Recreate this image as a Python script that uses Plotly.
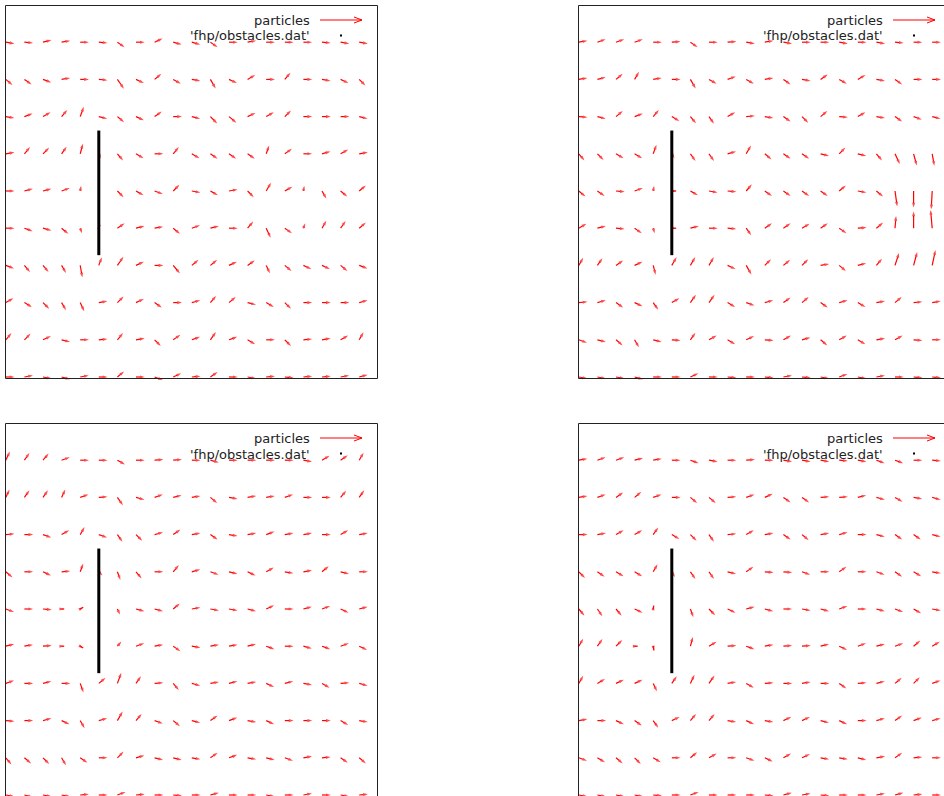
import numpy as np
import plotly.graph_objects as go

# ---------------------------------------------------------------------------
# Averaged FHP lattice-gas velocity field around a plate obstacle, 4 snapshots
# ---------------------------------------------------------------------------
col_x = [0, 1, 2, 3, 4, 5, 6, 7, 8, 9, 10, 11, 12, 13, 14, 15, 16, 17, 18, 19]
row_y = [18, 16, 14, 12, 10, 8, 6, 4, 2, 0]          # top row first

# obstacle (plate) endpoints
wall_x = [5, 5]
wall_y = [6.55, 13.25]

# flow direction per cell (degrees, counter-clockwise from +x), rows top->bottom
angle_1 = [
    [-10, -5, 15, 10, 0, -5, -35, 0, 25, -15, -15, -35, 0, 10, 0, 0, 0, -5, -10, -10],
    [-40, -35, -20, 10, 0, -5, -55, -25, 40, -30, -10, -60, -25, 30, 0, 50, 0, -10, -25, -45],
    [-10, 20, 30, 50, 70, -15, -40, -25, 35, 0, -15, -45, -40, 25, 30, 45, 0, 0, 0, -15],
    [10, 50, 45, 55, 75, -65, -50, -30, 0, 50, -30, -35, -35, -35, 70, 35, 0, 15, 30, 10],
    [0, 15, 15, 20, 80, 0, -45, -30, -20, 45, -10, -30, 10, -45, 60, 30, 80, -60, -40, 40],
    [0, -20, -15, -40, -70, 70, 35, 15, 10, -40, 20, 15, 0, 50, -65, -35, 70, 60, 55, 40],
    [-20, -50, -50, -60, -80, 70, 55, 25, 0, -50, 40, 40, 25, 35, -65, -40, -25, -25, -40, -20],
    [30, -30, -45, -60, -65, 10, 45, 25, -35, 0, 15, 50, 40, -15, -30, -45, 0, 0, 0, 15],
    [50, 45, 25, -15, 0, 5, 50, 10, -45, 35, 20, 55, 20, -30, 0, -45, 5, 10, 30, 60],
    [0, 10, -10, -15, 10, 0, 40, 0, -20, 25, 5, 35, 0, -10, 5, -5, 5, 5, 10, 15],
]
speed_1 = [
    [1, 1, 1, 1, 1, 1, 1, 1, 1, 1, 1, 1, 1, 1, 1, 1, 1, 1, 1, 1],
    [1, 1, 1, 1, 1, 1, 1.3, 1, 1, 1, 1, 1.2, 1, 1, 1, 1, 1, 1, 1, 1],
    [1, 1, 1, 1, 1.2, 1, 1, 1, 1, 1, 1, 1.1, 1.1, 1, 1, 1, 1, 1, 1, 1],
    [1, 1, 1, 1, 1.2, 0.6, 1, 1, 1, 1, 1, 1, 1, 1, 1, 1, 1, 1, 1, 1],
    [1, 1, 1, 1, 0.6, 0, 1, 1, 1, 1, 1, 1, 1, 1, 1.1, 1, 0.6, 1, 1, 1],
    [1, 1, 1, 1, 0.6, 0.4, 1, 1, 1, 1, 1, 1, 1, 1, 1.2, 1, 0.6, 1, 1, 1],
    [1, 1, 1, 1, 1.4, 1, 1.2, 1, 1, 1.2, 1, 1, 1, 1, 1, 1, 1, 1, 1, 1],
    [1, 1, 1, 1, 1.1, 1, 1, 1, 1, 1, 1, 1, 1, 1, 1, 1, 1, 1, 1, 1],
    [1, 1, 1, 1, 1, 1, 1, 1, 1, 1, 1, 1.1, 1, 1, 1, 1, 1, 1, 1, 1],
    [1, 1, 1, 1, 1, 1, 1, 1, 1, 1, 1, 1, 1, 1, 1, 1, 1, 1, 1, 1],
]

angle_2 = [
    [10, 20, 20, 20, 0, 5, -35, 0, 5, -10, 10, -10, 0, 0, -10, 0, -10, -5, 0, 0],
    [10, 15, 40, 60, 10, 0, -60, -30, 20, -30, 10, -35, -10, 35, -30, 30, -10, -35, 0, 0],
    [-5, -15, 40, 20, 50, -30, -50, -55, 30, 5, -10, -35, -45, 40, -5, 30, -10, -35, -20, -15],
    [-50, -45, -30, -30, 70, -60, -55, -55, 15, 60, -40, -35, -35, -15, 45, -15, -50, -65, -75, -80],
    [-40, -35, -5, 20, 80, 0, -30, -10, -5, 50, -35, -35, -35, -35, 40, -10, -40, -82, -90, -93],
    [30, 15, -5, -35, -75, 0, 15, 0, -5, -55, 35, 35, 30, 35, -35, 5, 40, 85, 90, 95],
    [60, 55, 35, 25, -75, 60, 60, 60, -25, -60, 45, 40, 45, 10, -40, 15, 50, 72, 75, 78],
    [5, 15, -35, -25, -55, 30, 55, 55, -30, -20, 15, 35, 40, -35, 15, -30, 10, 40, 5, 10],
    [-20, -15, -40, -60, -15, -5, 55, 30, -30, 25, -5, 30, 15, -40, 30, -30, 10, 30, -5, 0],
    [-10, -10, -10, -15, 0, 0, 25, 0, -5, 0, -5, 10, -5, -10, 20, -10, 10, 0, -5, -5],
]
speed_2 = [
    [1, 1, 1, 1, 1, 1, 1, 1, 1, 1, 1, 1, 1, 1, 1, 1, 1, 1, 1, 1],
    [1, 1, 1, 1, 1, 1, 1.2, 1, 1, 1, 1, 1, 1, 1, 1, 1, 1, 1, 1, 1],
    [1, 1, 1, 1, 1, 1, 1, 1, 1, 1, 1, 1, 1, 1, 1, 1, 1, 1, 1, 1],
    [1, 1, 1, 1, 1.1, 0.6, 1, 1, 1, 1.1, 1, 1, 1, 1, 1, 1, 1, 1.3, 1.4, 1.4],
    [1, 1, 1, 1, 0.6, 0.5, 1, 1, 1, 1, 1, 1, 1, 1, 1, 1, 1, 1.8, 1.9, 2.1],
    [1, 1, 1, 1, 0.6, 0.5, 1, 1, 1, 1, 1, 1, 1, 1, 1, 1, 1, 1.4, 1.9, 2.1],
    [1, 1, 1, 1, 1.1, 1.1, 1.1, 1.1, 1, 1.2, 1, 1, 1, 1, 1, 1, 1, 1.5, 1.6, 1.8],
    [1, 1, 1, 1, 1, 1, 1.1, 1.1, 1, 1, 1, 1, 1, 1, 1, 1, 1, 1, 1, 1],
    [1, 1, 1, 1, 1, 1, 1, 1, 1, 1, 1, 1, 1, 1, 1, 1, 1, 1, 1, 1],
    [1, 1, 1, 1, 1, 1, 1, 1, 1, 1, 1, 1, 1, 1, 1, 1, 1, 1, 1, 1],
]

angle_3 = [
    [65, 55, 50, 20, 0, 0, -30, 0, 5, 5, 0, -15, 0, 0, 0, 0, -10, 30, 35, 60],
    [65, 55, 55, 65, 20, 5, -55, -15, 20, 15, 10, -40, -10, 10, 10, 20, 0, 0, 50, 55],
    [5, 0, -20, 30, 60, -20, -55, -45, 15, 35, 10, -35, -10, 10, 20, 10, 10, 0, 30, 10],
    [-40, 0, -25, 5, 70, -45, -70, -50, 0, 50, 15, -20, -15, -25, 30, -10, 10, 40, -15, 0],
    [-20, 0, -5, 0, 30, 0, -65, -15, -15, 40, 10, -10, -10, -15, 25, 0, 15, 20, -25, 15],
    [15, 10, 5, 0, -30, 0, 50, 20, 10, -35, -10, 10, 10, 15, -20, 0, -15, -20, 20, -25],
    [20, 0, 15, 0, -70, 40, 70, 55, 5, -50, -15, 10, 15, 10, -25, 15, -10, -30, 5, -15],
    [-5, 0, 15, -25, -60, 15, 60, 50, -20, -40, -15, 35, 20, -10, -25, 0, 0, 0, -30, -10],
    [-50, -40, -45, -60, -35, 0, 45, 15, -15, -15, -10, 35, 20, -10, -15, -20, 10, 5, -35, -40],
    [-10, -15, -10, -10, 5, 0, 20, 5, 0, -5, 0, 15, 0, 0, -10, 0, 10, 0, -10, 5],
]
speed_3 = [
    [1.1, 1, 1, 1, 1, 1, 1, 1, 1, 1, 1, 1, 1, 1, 1, 1, 1, 1, 1, 1],
    [1, 1, 1, 1, 1, 1, 1.1, 1, 1, 1, 1, 1, 1, 1, 1, 1, 1, 1, 1, 1],
    [1, 1, 1, 1, 1, 1, 1, 1, 1, 1, 1, 1, 1, 1, 1, 1, 1, 1, 1, 1],
    [1, 1, 1, 1, 1, 0.6, 1, 1, 1, 1, 1, 1, 1, 1, 1, 1, 1, 1, 1, 1],
    [1, 1, 1, 0.3, 0.4, 0, 0.7, 1, 1, 1, 1, 1, 1, 1, 1, 1, 1, 1, 1, 1],
    [1, 1, 1, 0.3, 0.4, 0, 0.7, 1, 1, 1, 1, 1, 1, 1, 1, 1, 1, 1, 1, 1],
    [1, 1, 1, 1, 1.1, 1, 1.3, 1, 1, 1, 1, 1, 1, 1, 1, 1, 1, 1, 1, 1],
    [1, 1, 1, 1, 1, 1, 1.2, 1, 1, 1, 1, 1, 1, 1, 1, 1, 1, 1, 1, 1],
    [1, 1, 1, 1, 1, 1, 1, 1, 1, 1, 1, 1, 1, 1, 1, 1, 1, 1, 1, 1],
    [1, 1, 1, 1, 1, 1, 1, 1, 1, 1, 1, 1, 1, 1, 1, 1, 1, 1, 1, 1],
]

angle_4 = [
    [10, 20, 20, 15, 10, 0, -20, -10, 0, 5, 0, -10, -10, -10, -5, -10, -20, -20, 0, -5],
    [10, 20, 35, 40, 20, 0, -40, -40, 5, 20, 25, -35, -35, 5, 5, 15, -15, -30, -10, -15],
    [0, 10, 30, 30, 55, -30, -45, -55, 5, 30, 10, -35, -40, 10, 15, 0, -15, -35, -35, -15],
    [-45, -35, -30, -30, 60, -60, -55, -55, -15, 35, -5, -5, -20, 0, 35, 0, -20, -35, -30, -10],
    [-50, -55, -50, -25, 80, 0, -70, -45, -25, 15, -15, 0, -10, -15, 20, 0, -15, -20, -30, -10],
    [60, 55, 45, 0, -80, 0, 75, 30, 5, -20, 10, 5, 5, 15, -25, 20, 15, 20, 40, 30],
    [60, 30, 25, 25, -65, 55, 65, 55, 10, -30, 5, 0, 10, 0, -35, 5, 15, 40, 45, 20],
    [10, 0, -25, -35, -55, 25, 50, 50, -10, -25, -10, 25, 25, -15, -25, 0, 15, 35, 20, 15],
    [-20, -30, -40, -45, -30, 0, 40, 30, 0, -20, -25, 30, 25, -10, -10, -15, 10, 35, 5, 0],
    [-10, -10, -10, -10, -5, 0, 20, 0, 0, 0, -5, 15, 10, -5, 0, 0, 10, 15, 5, 0],
]
speed_4 = [
    [1, 1, 1, 1, 1, 1, 1, 1, 1, 1, 1, 1, 1, 1, 1, 1, 1, 1, 1, 1],
    [1, 1, 1, 1, 1, 1, 1, 1, 1, 1, 1, 1, 1, 1, 1, 1, 1, 1, 1, 1],
    [1, 1, 1, 1, 1, 1, 1, 1, 1, 1, 1, 1, 1, 1, 1, 1, 1, 1, 1, 1],
    [1, 1, 1, 1, 1, 0.7, 1, 1, 1, 1, 1, 1, 1, 1, 1, 1, 1, 1, 1, 1],
    [1, 1, 1, 1, 0.4, 0, 1, 1, 1, 1, 1, 1, 1, 1, 1, 1, 1, 1, 1, 1],
    [1, 1, 1, 0.35, 0.5, 0, 1.1, 1, 1, 1, 1, 1, 1, 1, 1, 1, 1, 1, 1, 1],
    [1, 1, 1, 1, 1, 1, 1.1, 1.1, 1, 1, 1, 1, 1, 1, 1, 1, 1, 1, 1, 1],
    [1, 1, 1, 1, 1, 1, 1, 1, 1, 1, 1, 1, 1, 1, 1, 1, 1, 1, 1, 1],
    [1, 1, 1, 1, 1, 1, 1, 1, 1, 1, 1, 1, 1, 1, 1, 1, 1, 1, 1, 1],
    [1, 1, 1, 1, 1, 1, 1, 1, 1, 1, 1, 1, 1, 1, 1, 1, 1, 1, 1, 1],
]

legend_labels = ["particles", "'fhp/obstacles.dat'"]

# ---------------------------------------------------------------------------
# page geometry (pixels)
# ---------------------------------------------------------------------------
W, H = 944, 796
S = 18.6              # pixels per lattice unit
ARROW_LEN = 0.47      # lattice units per unit speed
FRAME_W, FRAME_H = 372, 373
FONT = "DejaVu Sans"
RED = "#ff0000"
INK = "#222222"

# (left, top) of each plot frame
panels = [
    dict(L=5, T=5, fields=(angle_1, speed_1)),
    dict(L=578, T=5, fields=(angle_2, speed_2)),
    dict(L=5, T=423, fields=(angle_3, speed_3)),
    dict(L=578, T=423, fields=(angle_4, speed_4)),
]


def px_x(x):
    return x / W


def px_y(y):
    return 1 - y / H


fig = go.Figure()
shapes = []
annotations = []
layout_axes = {}

for i, p in enumerate(panels):
    L, T = p["L"], p["T"]
    k = "" if i == 0 else str(i + 1)
    xa, ya = "x" + k, "y" + k
    # axis area slightly larger than the drawn frame so arrows are not clipped
    x0p, x1p = max(0, L - 20), min(W, L + 395)
    y0p, y1p = max(0, T - 20), min(H, T + 395)
    y_zero = T + 372
    layout_axes["xaxis" + k] = dict(
        domain=[px_x(x0p), px_x(x1p)],
        range=[(x0p - L - 0.8) / S, (x1p - L - 0.8) / S],
        anchor=ya, visible=False, fixedrange=True,
    )
    layout_axes["yaxis" + k] = dict(
        domain=[px_y(y1p), px_y(y0p)],
        range=[(y_zero - y1p) / S, (y_zero - y0p) / S],
        anchor=xa, visible=False, fixedrange=True,
    )

    # velocity arrows
    ang, spd = p["fields"]
    xs, ys, sizes = [], [], []
    for r, yr in enumerate(row_y):
        for c, xc in enumerate(col_x):
            v = spd[r][c]
            if v <= 0:
                continue
            a = np.deg2rad(ang[r][c])
            xs += [xc, xc + ARROW_LEN * v * np.cos(a), None]
            ys += [yr, yr + ARROW_LEN * v * np.sin(a), None]
            sizes += [0, 5, 0]
    fig.add_trace(go.Scatter(
        x=xs, y=ys, mode="lines+markers", xaxis=xa, yaxis=ya,
        line=dict(color=RED, width=1.2),
        marker=dict(symbol="arrow", size=sizes, angleref="previous", color=RED,
                    line=dict(width=0)),
        hoverinfo="skip", showlegend=False,
    ))

    # obstacle plate
    fig.add_trace(go.Scatter(
        x=wall_x, y=wall_y, mode="lines", xaxis=xa, yaxis=ya,
        line=dict(color="black", width=3),
        hoverinfo="skip", showlegend=False,
    ))

    # frame
    lft, top = L + 0.5, T + 0.5
    rgt, bot = L + FRAME_W + 0.5, T + FRAME_H + 0.5
    edges = [
        (lft, top, min(rgt, W), top),
        (lft, top, lft, min(bot, H)),
    ]
    if rgt < W:
        edges.append((rgt, top, rgt, min(bot, H)))
    if bot < H:
        edges.append((lft, bot, min(rgt, W), bot))
    for (ax0, ay0, ax1, ay1) in edges:
        shapes.append(dict(type="line", xref="paper", yref="paper",
                           x0=px_x(ax0), y0=px_y(ay0), x1=px_x(ax1), y1=px_y(ay1),
                           line=dict(color=INK, width=1)))

    # key
    for j, lab in enumerate(legend_labels):
        annotations.append(dict(
            text=lab, xref="paper", yref="paper",
            x=px_x(L + 307), y=px_y(T + 15 + 16 * j),
            xanchor="right", yanchor="middle", showarrow=False,
            font=dict(family=FONT, size=13, color=INK),
        ))
    ky = T + 15
    tip = L + 357
    shapes.append(dict(type="line", xref="paper", yref="paper",
                       x0=px_x(L + 315), y0=px_y(ky), x1=px_x(tip), y1=px_y(ky),
                       line=dict(color=RED, width=1)))
    for dy in (-3, 3):
        shapes.append(dict(type="line", xref="paper", yref="paper",
                           x0=px_x(tip - 8), y0=px_y(ky + dy), x1=px_x(tip), y1=px_y(ky),
                           line=dict(color=RED, width=1)))
    dx, dyy = L + 336, T + 30.5
    shapes.append(dict(type="rect", xref="paper", yref="paper",
                       x0=px_x(dx - 1), y0=px_y(dyy - 1), x1=px_x(dx + 1), y1=px_y(dyy + 1),
                       fillcolor="black", line=dict(width=0)))

fig.update_layout(
    width=W, height=H, autosize=False,
    margin=dict(l=0, r=0, t=0, b=0),
    paper_bgcolor="white", plot_bgcolor="rgba(0,0,0,0)",
    shapes=shapes, annotations=annotations,
    showlegend=False,
    **layout_axes,
)

fig.write_html("out.html")
